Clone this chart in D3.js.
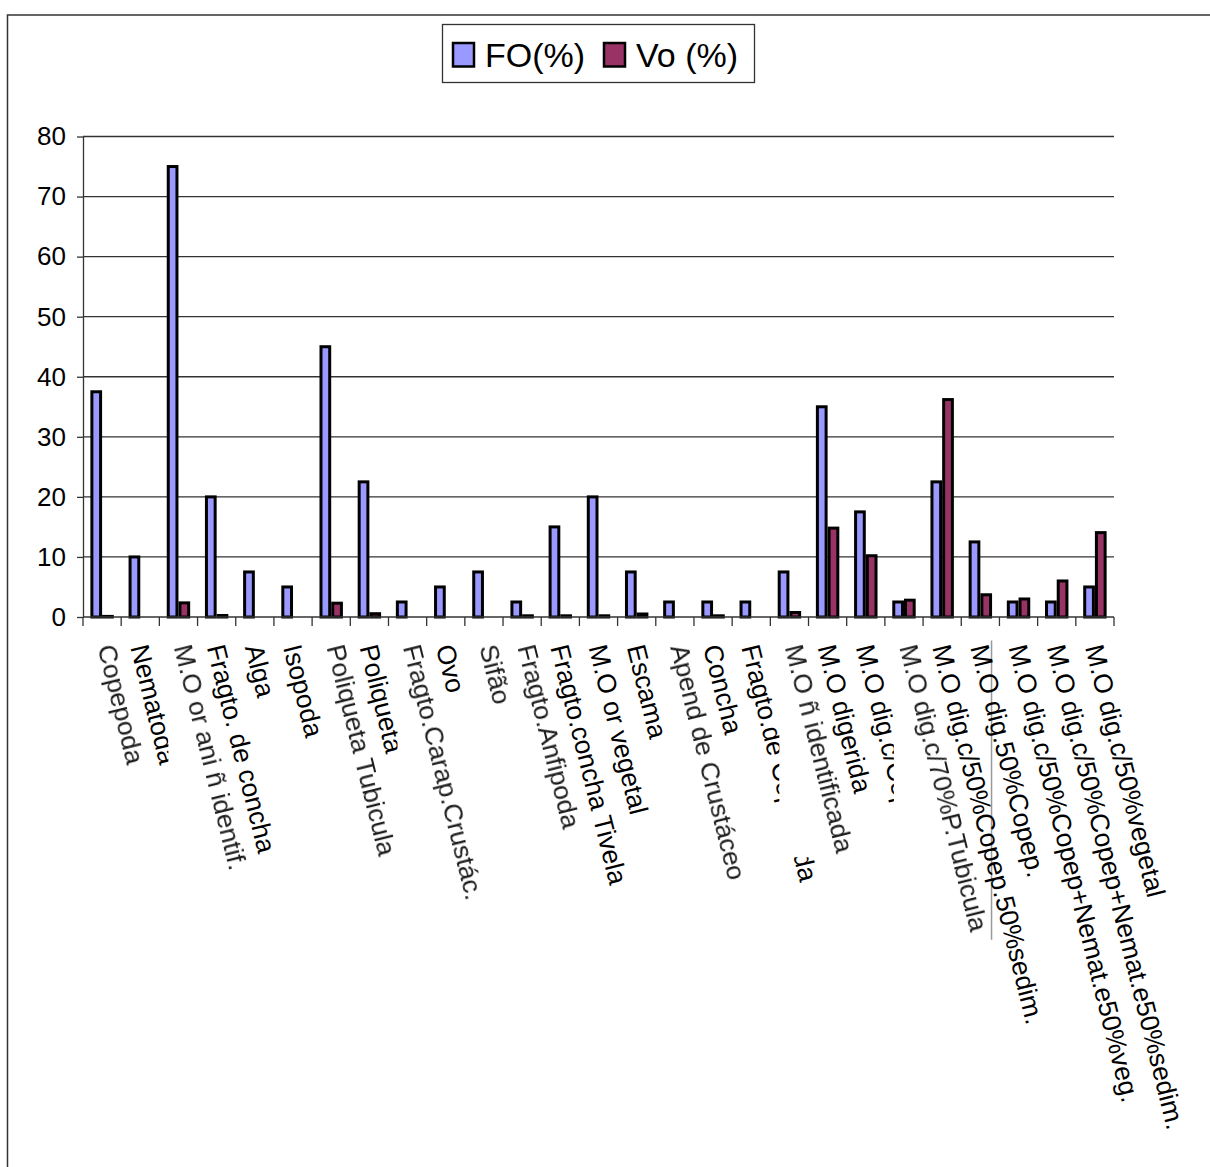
<!DOCTYPE html>
<html>
<head>
<meta charset="utf-8">
<script src="https://cdn.jsdelivr.net/npm/d3@7"></script>
<style>
  html, body { margin: 0; padding: 0; background: #fff; }
  svg { display: block; font-family: "Liberation Sans", Arial, sans-serif; }
</style>
</head>
<body>
<svg id="chart" width="1210" height="1167"></svg>
<script>
// Diet items and their frequency of occurrence / volume (%)
const categories = [
  "Copepoda", "Nematoda", "M.O or ani ñ identif.", "Fragto. de concha", "Alga",
  "Isopoda", "Poliqueta Tubicula", "Poliqueta", "Fragto.Carap.Crustác.", "Ovo",
  "Sifão", "Fragto.Anfipoda", "Fragto.concha Tivela", "M.O or vegetal", "Escama",
  "Apend de Crustáceo", "Concha", "Fragto.de Copepoda", "M.O ñ identificada",
  "M.O digerida", "M.O dig.c/Copep.", "M.O dig.c/70%P.Tubicula",
  "M.O dig.c/50%Copep.50%sedim.", "M.O dig.50%Copep.",
  "M.O dig.c/50%Copep+Nemat.e50%veg.", "M.O dig.c/50%Copep+Nemat.e50%sedim.",
  "M.O dig.c/50%vegetal"
];
const foValues = [
  37.5, 10, 75, 20, 7.5, 5, 45, 22.5, 2.5, 5, 7.5, 2.5, 15, 20, 7.5,
  2.5, 2.5, 2.5, 7.5, 35, 17.5, 2.5, 22.5, 12.5, 2.5, 2.5, 5
];
const voValues = [
  0.1, 0, 2.35, 0.25, 0, 0, 2.3, 0.55, 0, 0, 0, 0.2, 0.2, 0.2, 0.5,
  0, 0.2, 0, 0.75, 14.8, 10.2, 2.8, 36.2, 3.7, 3.0, 6.0, 14.05
];
const seriesNames = ["FO(%)", "Vo (%)"];
const seriesColors = ["#9999FF", "#993366"];
const yTicks = [0, 10, 20, 30, 40, 50, 60, 70, 80];

// Labels pasted as softened image patches with an opaque white backing
const softLabels = new Set([0, 2, 6, 8, 10, 11, 15, 18, 21]);
const edgedLabels = new Set([21]);

const svg = d3.select("#chart");
const W = 1210, H = 1167;
const plot = { left: 83, right: 1114, top: 136.5, bottom: 617 };

const defs = svg.append("defs");
defs.append("filter").attr("id", "soft")
  .attr("x", "-5%").attr("y", "-5%").attr("width", "110%").attr("height", "110%")
  .append("feGaussianBlur").attr("stdDeviation", 0.75);

// outer chart frame (only top and left edges fall inside the page)
svg.append("rect")
  .attr("x", 7.5).attr("y", 15).attr("width", W + 20).attr("height", H + 20)
  .attr("fill", "#fff").attr("stroke", "#333").attr("stroke-width", 1.5);

const x0 = d3.scaleBand().domain(categories).range([plot.left, plot.right]).padding(0);
const x1 = d3.scaleBand().domain(seriesNames).range([0, x0.bandwidth()]).paddingOuter(0.63).paddingInner(0);
const y = d3.scaleLinear().domain([0, 80]).range([plot.bottom, plot.top]);

// horizontal gridlines
svg.append("g").selectAll("line")
  .data(yTicks.filter(t => t > 0))
  .join("line")
  .attr("x1", plot.left).attr("x2", plot.right)
  .attr("y1", d => y(d)).attr("y2", d => y(d))
  .attr("stroke", "#333").attr("stroke-width", 1.3);

// y axis
const yAxis = svg.append("g")
  .attr("transform", `translate(${plot.left},0)`)
  .call(d3.axisLeft(y).tickValues(yTicks).tickSize(6).tickPadding(11).tickSizeOuter(0));
yAxis.select(".domain").attr("stroke", "#333").attr("stroke-width", 1.3);
yAxis.selectAll(".tick line").attr("stroke", "#333").attr("stroke-width", 1.3);
yAxis.selectAll(".tick text")
  .attr("font-family", "'Liberation Sans', Arial, sans-serif")
  .attr("font-size", 26).attr("fill", "#000");

// bars
const stroke = 3;
const groups = svg.append("g").selectAll("g")
  .data(categories.map((c, i) => ({ c, vals: [foValues[i], voValues[i]] })))
  .join("g")
  .attr("transform", d => `translate(${x0(d.c)},0)`);
groups.selectAll("rect")
  .data(d => d.vals.map((v, k) => ({ k, v })))
  .join("rect")
  .attr("x", d => x1(seriesNames[d.k]) + stroke / 2)
  .attr("width", x1.bandwidth() - stroke)
  .attr("y", d => y(d.v))
  .attr("height", d => y(0) - y(d.v))
  .attr("fill", d => seriesColors[d.k])
  .attr("stroke", "#000").attr("stroke-width", stroke);

// x axis with ticks on category boundaries
const xAxisG = svg.append("g");
xAxisG.append("line")
  .attr("x1", plot.left).attr("x2", plot.right)
  .attr("y1", plot.bottom).attr("y2", plot.bottom)
  .attr("stroke", "#333").attr("stroke-width", 1.3);
const boundaries = categories.map(c => x0(c)).concat([plot.right]);
xAxisG.selectAll("line.tk")
  .data(boundaries)
  .join("line").attr("class", "tk")
  .attr("x1", d => d).attr("x2", d => d)
  .attr("y1", plot.bottom).attr("y2", plot.bottom + 9)
  .attr("stroke", "#333").attr("stroke-width", 1.3);

// rotated category labels
const fs = 26.5, angle = 76, labelTop = 645;
const rad = angle * Math.PI / 180;
const labelLayer = svg.append("g");
categories.forEach((c, i) => {
  const soft = softLabels.has(i);
  const g = labelLayer.append("g");
  const cx = x0(c) + x0.bandwidth() / 2 + (soft ? 4 : -1);
  const t = g.append("text")
    .attr("transform", `translate(${cx},${labelTop}) rotate(${angle})`)
    .attr("dy", "0.35em")
    .attr("font-size", fs)
    .attr("fill", soft ? "#1a1a1a" : "#000")
    .text(c);
  if (soft) {
    t.attr("filter", "url(#soft)");
    // white backing that hugs the glyph band
    const L = t.node().getComputedTextLength();
    const v0 = -0.40 * fs, v1 = 0.47 * fs;
    const pts = [[0, v0], [L, v0], [0, v1], [L, v1]].map(([u, v]) => [
      cx + u * Math.cos(rad) - v * Math.sin(rad),
      labelTop + u * Math.sin(rad) + v * Math.cos(rad)
    ]);
    const pad = 2;
    const bx = d3.min(pts, p => p[0]) - pad, by = d3.min(pts, p => p[1]) - pad;
    const bw = d3.max(pts, p => p[0]) + pad - bx, bh = d3.max(pts, p => p[1]) + pad - by;
    g.insert("rect", "text")
      .attr("x", bx).attr("y", by).attr("width", bw).attr("height", bh)
      .attr("fill", "#fff");
    if (edgedLabels.has(i)) {
      g.append("line")
        .attr("x1", bx + bw).attr("x2", bx + bw)
        .attr("y1", by).attr("y2", by + bh + 4)
        .attr("stroke", "#999").attr("stroke-width", 1.5);
    }
  }
});

// legend
const legend = svg.append("g");
legend.append("rect")
  .attr("x", 442.5).attr("y", 24.5).attr("width", 312).attr("height", 58)
  .attr("fill", "#fff").attr("stroke", "#333").attr("stroke-width", 1.3);
const legendItems = [
  { name: seriesNames[0], sx: 453, tx: 485 },
  { name: seriesNames[1], sx: 604, tx: 636 }
];
legendItems.forEach((it, k) => {
  legend.append("rect")
    .attr("x", it.sx).attr("y", 43).attr("width", 21).attr("height", 23.5)
    .attr("fill", seriesColors[k]).attr("stroke", "#000").attr("stroke-width", 2.5);
  legend.append("text")
    .attr("x", it.tx).attr("y", 67)
    .attr("font-size", 34).attr("fill", "#000")
    .text(it.name);
});
</script>
</body>
</html>
